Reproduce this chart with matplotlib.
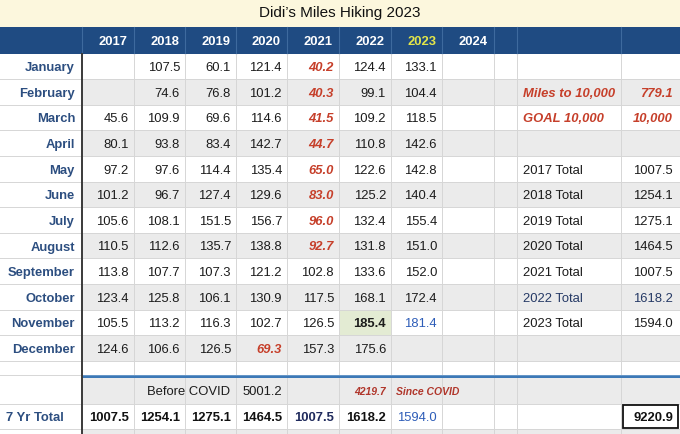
import matplotlib
matplotlib.use("Agg")
import matplotlib.pyplot as plt
from matplotlib.patches import Rectangle

plt.rcParams['font.family'] = ['Liberation Sans', 'DejaVu Sans']

# ---------------- data ----------------
title = "Didi\u2019s Miles Hiking 2023"
years = ["2017", "2018", "2019", "2020", "2021", "2022", "2023", "2024"]
months = ["January", "February", "March", "April", "May", "June", "July",
          "August", "September", "October", "November", "December"]
v2017 = [None, None, 45.6, 80.1, 97.2, 101.2, 105.6, 110.5, 113.8, 123.4, 105.5, 124.6]
v2018 = [107.5, 74.6, 109.9, 93.8, 97.6, 96.7, 108.1, 112.6, 107.7, 125.8, 113.2, 106.6]
v2019 = [60.1, 76.8, 69.6, 83.4, 114.4, 127.4, 151.5, 135.7, 107.3, 106.1, 116.3, 126.5]
v2020 = [121.4, 101.2, 114.6, 142.7, 135.4, 129.6, 156.7, 138.8, 121.2, 130.9, 102.7, 69.3]
v2021 = [40.2, 40.3, 41.5, 44.7, 65.0, 83.0, 96.0, 92.7, 102.8, 117.5, 126.5, 157.3]
v2022 = [124.4, 99.1, 109.2, 110.8, 122.6, 125.2, 132.4, 131.8, 133.6, 168.1, 185.4, 175.6]
v2023 = [133.1, 104.4, 118.5, 142.6, 142.8, 140.4, 155.4, 151.0, 152.0, 172.4, 181.4, None]
v2024 = [None] * 12
year_totals = [1007.5, 1254.1, 1275.1, 1464.5, 1007.5, 1618.2, 1594.0]
total_labels = ["2017 Total", "2018 Total", "2019 Total", "2020 Total",
                "2021 Total", "2022 Total", "2023 Total"]
before_covid = 5001.2
since_covid = 4219.7
miles_to_goal = 779.1
goal = "10,000"
grand_total = 9220.9

series = [v2017, v2018, v2019, v2020, v2021, v2022, v2023, v2024]

# red (covid-affected) cells: (year index, month index)
red_cells = [(4, m) for m in range(8)] + [(3, 11)]

# ---------------- layout ----------------
W, H = 680, 435
fig = plt.figure(figsize=(6.8, 4.35), dpi=100)
ax = fig.add_axes([0, 0, 1, 1])
ax.set_xlim(0, W)
ax.set_ylim(H, 0)
ax.axis("off")

col_x = [0, 82, 133.5, 185, 236, 287, 339, 391, 442, 494, 517, 621, 680]
title_h = 28
hdr_top, hdr_bot = 28, 54.5
row_h = 25.6
rows_top = [hdr_bot + row_h * i for i in range(12)]
blank_top = rows_top[-1] + row_h
blank_bot = 376
line_bot = 379
bc_top, bc_bot = line_bot, 404.5
tot_top, tot_bot = 404.5, 430

GRAY = "#EBEBEB"
WHITE = "#FFFFFF"
HDR = "#1F4B82"
RED = "#C63F2A"
RED_D = "#B0362B"
BLUE_T = "#2C4E80"
BLUE_V = "#2E5DB8"
TXT = "#1C1C1C"
GRID = "#D6D6D6"
FS = 9.4

def rect(x0, y0, x1, y1, fc, ec="none", lw=0, z=1):
    ax.add_patch(Rectangle((x0, y0), x1 - x0, y1 - y0, facecolor=fc,
                           edgecolor=ec, linewidth=lw, zorder=z))

# title band
rect(0, 0, W, title_h, "#FCF7DD")
ax.text(W / 2, 13, title, ha="center", va="center", fontsize=11, color="#111111")

# header
rect(0, hdr_top, W, hdr_bot, HDR)
for x in col_x[1:-1]:
    ax.plot([x, x], [hdr_top, hdr_bot], color="#3E6A9E", lw=0.8, zorder=2)
for i, y in enumerate(years):
    ax.text(col_x[i + 2] - 6, (hdr_top + hdr_bot) / 2 + 1, y, ha="right", va="center",
            fontsize=FS, fontweight="bold",
            color="#E3E64A" if y == "2023" else "white", zorder=3)

# row backgrounds (data area)
for i, top in enumerate(rows_top):
    rect(0, top, W, top + row_h, WHITE if i % 2 == 0 else GRAY)
    rect(0, top, col_x[1], top + row_h, WHITE)
rect(0, blank_top, W, blank_bot, WHITE)
rect(0, bc_top, W, bc_bot, GRAY)
rect(0, bc_top, col_x[1], bc_bot, WHITE)
rect(0, tot_top, W, tot_bot, WHITE)
rect(0, tot_bot, W, H, GRAY)
rect(0, tot_bot, col_x[1], H, WHITE)

# highlighted cell (Nov 2022)
rect(col_x[6], rows_top[10], col_x[7], rows_top[10] + row_h, "#E3EBD3")

# horizontal grid lines
hlines = rows_top[1:] + [blank_top, blank_bot, bc_bot, tot_bot]
for y in hlines:
    ax.plot([0, W], [y, y], color=GRID, lw=0.7, zorder=2)
# vertical grid lines
for x in col_x[2:-1]:
    ax.plot([x, x], [hdr_bot, H], color=GRID, lw=0.7, zorder=2)
ax.plot([col_x[1], col_x[1]], [hdr_bot, H], color="#3A3A3A", lw=1.4, zorder=4)

# thick blue separator
rect(col_x[1], blank_bot, W, line_bot, "#3C78B6", z=3)
ax.plot([col_x[1], W], [blank_bot, blank_bot], color="#6F9CCB", lw=0.6, zorder=3)

# month labels
for i, m in enumerate(months):
    ax.text(col_x[1] - 7, rows_top[i] + row_h / 2 + 1, m, ha="right", va="center",
            fontsize=FS, fontweight="bold", color=BLUE_T, zorder=3)

# monthly values
for yi, vals in enumerate(series):
    xr = col_x[yi + 2] - 5
    for mi, v in enumerate(vals):
        if v is None:
            continue
        yc = rows_top[mi] + row_h / 2 + 1
        kw = dict(ha="right", va="center", fontsize=FS, color=TXT, zorder=3)
        if (yi, mi) in red_cells:
            kw.update(color=RED, fontweight="bold", style="italic")
        if yi == 5 and mi == 10:
            kw.update(fontweight="bold")
        if yi == 6 and mi == 10:
            kw.update(color=BLUE_V)
        ax.text(xr, yc, f"{v:.1f}", **kw)

# right side panel
lx = col_x[10] + 6
vx = col_x[12] - 7
ax.text(lx, rows_top[1] + row_h / 2 + 1, "Miles to 10,000", ha="left", va="center",
        fontsize=FS, color=RED, fontweight="bold", style="italic", zorder=3)
ax.text(vx, rows_top[1] + row_h / 2 + 1, f"{miles_to_goal:.1f}", ha="right", va="center",
        fontsize=FS, color=RED, fontweight="bold", style="italic", zorder=3)
ax.text(lx, rows_top[2] + row_h / 2 + 1, f"GOAL {goal}", ha="left", va="center",
        fontsize=FS, color=RED, fontweight="bold", style="italic", zorder=3)
ax.text(vx, rows_top[2] + row_h / 2 + 1, goal, ha="right", va="center",
        fontsize=FS, color=RED, fontweight="bold", style="italic", zorder=3)
for k, (lab, tv) in enumerate(zip(total_labels, year_totals)):
    yc = rows_top[4 + k] + row_h / 2 + 1
    c = "#263A66" if k == 5 else TXT
    ax.text(lx, yc, lab, ha="left", va="center", fontsize=FS, color=c, zorder=3)
    ax.text(vx, yc, f"{tv:.1f}", ha="right", va="center", fontsize=FS, color=c, zorder=3)

# Before / since covid row
ybc = (bc_top + bc_bot) / 2
ax.text(col_x[4] - 6, ybc, "Before COVID", ha="right", va="center", fontsize=FS,
        color=TXT, zorder=3)
ax.text(col_x[5] - 5, ybc, f"{before_covid:.1f}", ha="right", va="center", fontsize=FS,
        color=TXT, zorder=3)
ax.text(col_x[7] - 5, ybc, f"{since_covid:.1f}", ha="right", va="center", fontsize=7.5,
        color=RED_D, style="italic", fontweight="bold", zorder=3)
ax.text(col_x[7] + 5, ybc, "Since COVID", ha="left", va="center", fontsize=7.5,
        color=RED_D, style="italic", fontweight="bold", zorder=3)

# 7 yr total row
ytt = (tot_top + tot_bot) / 2 + 1
ax.text(6, ytt, "7 Yr Total", ha="left", va="center", fontsize=FS, fontweight="bold",
        color=BLUE_T, zorder=3)
for yi, tv in enumerate(year_totals):
    kw = dict(ha="right", va="center", fontsize=FS, fontweight="bold", color="#111111",
              zorder=3)
    if yi == 4:
        kw.update(color="#1F2A5C")
    if yi == 6:
        kw.update(color=BLUE_V, fontweight="normal")
    ax.text(col_x[yi + 2] - 5, ytt, f"{tv:.1f}", **kw)
rect(col_x[11] + 1.5, tot_top + 1, col_x[12] - 2, tot_bot - 1, WHITE, ec="#111111",
     lw=1.3, z=3)
ax.text(vx, ytt, f"{grand_total:.1f}", ha="right", va="center", fontsize=FS,
        fontweight="bold", color="#111111", zorder=4)

fig.savefig("out.png", dpi=100)
